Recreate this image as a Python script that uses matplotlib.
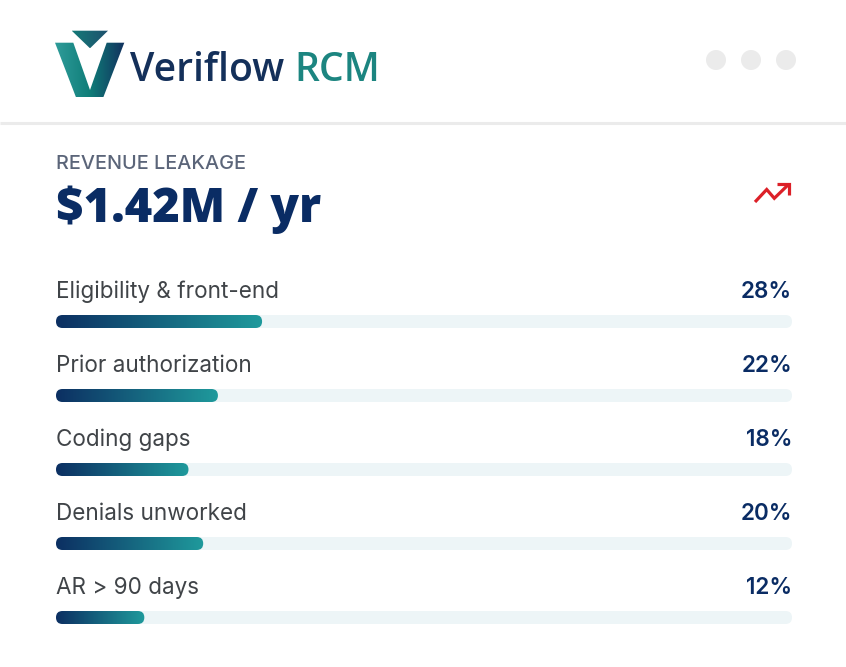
import numpy as np
import matplotlib
matplotlib.use("Agg")
import matplotlib.pyplot as plt
from matplotlib.colors import LinearSegmentedColormap
from matplotlib.patches import FancyBboxPatch, Polygon, Circle

W, H = 846, 667

# Data
categories = ["Eligibility & front-end", "Prior authorization", "Coding gaps", "Denials unworked", "AR > 90 days"]
shares = [28, 22, 18, 20, 12]
title_small = "REVENUE LEAKAGE"
title_big = "$1.42M / yr"

NAVY = "#0a2c64"
bar_cmap = LinearSegmentedColormap.from_list("bar", ["#0c2f62", "#1f9a9c"])
logo_cmap = LinearSegmentedColormap.from_list("logo", ["#2f9c9a", "#0f7d78", "#12305e"])
tri_cmap = LinearSegmentedColormap.from_list("tri", ["#157a78", "#1d4f6d"])

fig = plt.figure(figsize=(W / 100, H / 100), dpi=100, facecolor="white")

# Overlay axes in pixel coordinates for the header parts
bg = fig.add_axes([0, 0, 1, 1])
bg.set_xlim(0, W)
bg.set_ylim(H, 0)
bg.axis("off")


def gradient_poly(ax, pts, cmap, x0, x1):
    poly = Polygon(pts, closed=True, fc="none", ec="none")
    ax.add_patch(poly)
    grad = np.linspace(0, 1, 256).reshape(1, -1)
    ys = [p[1] for p in pts]
    im = ax.imshow(grad, cmap=cmap, extent=[x0, x1, max(ys), min(ys)], aspect="auto", zorder=2)
    im.set_clip_path(poly)


# logo mark
gradient_poly(bg, [(55, 42.7), (73.3, 42.7), (90, 90), (106.7, 42.7), (124.3, 42.7), (103.3, 97.3), (76, 97.3)],
              logo_cmap, 55, 124.3)
gradient_poly(bg, [(71.7, 30.7), (108, 30.7), (90, 48.3)], tri_cmap, 71.7, 108)
bg.set_xlim(0, W)
bg.set_ylim(H, 0)

bg.text(129.5, 81, "Veriflow", family="Open Sans", weight="semibold", fontsize=28.2, color="#14305a", va="baseline")
bg.text(294.5, 81, "RCM", family="Open Sans", weight="semibold", fontsize=28.2, color="#1c8580", va="baseline")

# window dots
for cx in [716, 751, 786]:
    bg.add_patch(Circle((cx, 60), 10, fc="#ebebeb", ec="none"))

# divider
bg.plot([0, W], [122.5, 122.5], color="#ebebeb", lw=2.2, solid_capstyle="butt")

# heading
bg.text(56, 169, title_small, family="Inter", weight="medium", fontsize=14.3, color="#5b6579", va="baseline")
bg.text(56, 222.5, title_big, family="Open Sans", weight="extra bold", fontsize=33.8, color=NAVY, va="baseline")

# red trend icon
bg.plot([755, 766.7, 774.3, 788.5], [202, 189.5, 198.3, 184.5], color="#dc2028", lw=2.3,
        solid_joinstyle="miter", solid_capstyle="butt")
bg.plot([777, 789.3, 789.3], [184, 184, 195], color="#dc2028", lw=2.3,
        solid_joinstyle="miter", solid_capstyle="butt")

# Bars axes: 0-100 share across the track
ax = fig.add_axes([56 / W, 1 - 654.5 / H, 736 / W, 370 / H])
ax.set_xlim(0, 100)
ax.set_ylim(4.5, -0.5)
ax.axis("off")
ax.patch.set_alpha(0)

bar_h = 13 / 74
px_x = 736 / 100
px_y = 74
rounding = 6.5 / px_x
aspect = px_x / px_y


def rounded(x, y, w, **kw):
    return FancyBboxPatch((x, y - bar_h / 2), w, bar_h,
                          boxstyle=f"round,pad=0,rounding_size={rounding}",
                          mutation_aspect=aspect, **kw)


for i, (name, val) in enumerate(zip(categories, shares)):
    ax.add_patch(rounded(0, i, 100, fc="#edf5f7", ec="none"))
    clip = rounded(0, i, val, fc="none", ec="none")
    ax.add_patch(clip)
    im = ax.imshow(np.linspace(0, 1, 256).reshape(1, -1), cmap=bar_cmap,
                   extent=[0, val, i + bar_h / 2, i - bar_h / 2], aspect="auto", zorder=3)
    im.set_clip_path(clip)
    ax.text(0.03, i - 0.318, name, family="Inter", fontsize=16.2, color="#404448", va="baseline")
    ax.text(100, i - 0.318, f"{val}%", family="Inter", weight="semibold", fontsize=16.2, color=NAVY,
            ha="right", va="baseline")

ax.set_xlim(0, 100)
ax.set_ylim(4.5, -0.5)

fig.savefig("out.png", dpi=100, facecolor="white")
